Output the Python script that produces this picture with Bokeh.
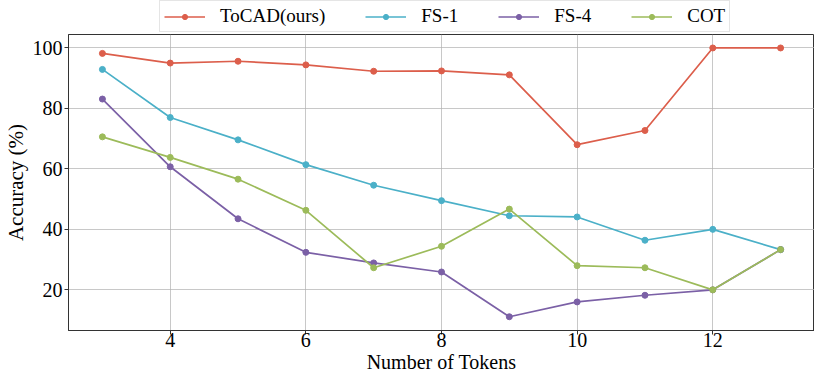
from bokeh.plotting import figure
from bokeh.models import Legend, LegendItem, Range1d, FixedTicker
from bokeh.core.properties import value
from bokeh.layouts import column
from bokeh.embed import file_html
from bokeh.resources import INLINE

tokens = [3, 4, 5, 6, 7, 8, 9, 10, 11, 12, 13]
tocad = [98.2, 95.0, 95.6, 94.4, 92.3, 92.4, 91.1, 68.0, 72.7, 100.0, 100.0]
fs1 = [92.9, 77.0, 69.6, 61.4, 54.6, 49.5, 44.5, 44.1, 36.4, 40.0, 33.3]
fs4 = [83.1, 60.7, 43.5, 32.4, 28.9, 25.9, 11.1, 16.0, 18.2, 20.0, 33.3]
cot = [70.6, 63.8, 56.6, 46.3, 27.3, 34.4, 46.7, 28.0, 27.3, 20.0, 33.3]

names = ["ToCAD(ours)", "FS-1", "FS-4", "COT"]
series = [tocad, fs1, fs4, cot]
colors = ["#dc5e4b", "#4bb0c8", "#7b60a6", "#9cbb5a"]
x_ticks = [4, 6, 8, 10, 12]
y_ticks = [20, 40, 60, 80, 100]
x_label = "Number of Tokens"
y_label = "Accuracy (%)"

FONT = "Liberation Serif"

W = 814
LEG_H = 33
XLAB_H = 24
H = 373 - LEG_H - XLAB_H

# ---- main plot ----
p = figure(width=W, height=H, output_backend="svg", toolbar_location=None,
           x_range=Range1d(2.5, 13.5), y_range=Range1d(6.55, 104.45),
           min_border_left=59, min_border_right=0,
           min_border_bottom=0, min_border_top=1)

for name, vals, c in zip(names, series, colors):
    p.line(tokens, vals, line_color=c, line_width=1.7)
    p.scatter(tokens, vals, size=6, fill_color=c, line_color=c)

p.xaxis.ticker = FixedTicker(ticks=x_ticks)
p.yaxis.ticker = FixedTicker(ticks=y_ticks)
p.yaxis.axis_label = y_label
for ax in (p.xaxis, p.yaxis):
    ax.axis_label_text_font = FONT
    ax.axis_label_text_font_size = "21px"
    ax.axis_label_text_font_style = "normal"
    ax.axis_label_text_color = "black"
    ax.major_label_text_font = FONT
    ax.major_label_text_font_size = "20px"
    ax.major_label_text_color = "black"
    ax.minor_tick_line_color = None
    ax.major_tick_out = 4
    ax.major_tick_in = 0
    ax.major_tick_line_color = "#333333"
    ax.axis_line_color = "#333333"
p.xaxis.major_label_standoff = -2
p.yaxis.major_label_standoff = 2
p.yaxis.axis_label_standoff = 2

p.grid.grid_line_color = "#b0b0b0"
p.grid.grid_line_alpha = 0.7
p.grid.grid_line_width = 1
p.outline_line_color = "#333333"
p.outline_line_width = 1
p.outline_line_alpha = 1.0

# ---- legend strip (same data, drawn out of its view; only the legend shows) ----
lp = figure(width=W, height=LEG_H, output_backend="svg", toolbar_location=None,
            x_range=Range1d(-2, -1), y_range=Range1d(-2, -1), min_border=0)
lp.axis.visible = False
lp.grid.visible = False
lp.outline_line_color = None

items = []
for name, vals, c in zip(names, series, colors):
    r1 = lp.line(tokens, vals, line_color=c, line_width=1.7)
    r2 = lp.scatter(tokens, vals, size=6, fill_color=c, line_color=c)
    items.append(LegendItem(label=name, renderers=[r1, r2]))

legend = Legend(items=items, orientation="horizontal", location=(91, 1),
                label_text_font=FONT, label_text_font_size="19px",
                label_text_color="black",
                glyph_width=41, glyph_height=13, label_height=20,
                label_standoff=15, spacing=40, padding=4, margin=0,
                border_line_color="#cccccc", border_line_width=1,
                background_fill_alpha=1.0)
lp.add_layout(legend, "center")

# ---- x-axis title strip ----
bf = figure(width=W, height=XLAB_H, output_backend="svg", toolbar_location=None,
            x_range=Range1d(0, 1), y_range=Range1d(0, 1), min_border=0)
bf.axis.visible = False
bf.grid.visible = False
bf.outline_line_color = None
bf.text(x=[0.5], y=[0.5], text=[x_label], text_align="center", text_baseline="middle",
        text_font=value(FONT), text_font_size="20px", text_color="black")

open("out.html", "w").write(file_html(column(lp, p, bf, spacing=0), INLINE))
